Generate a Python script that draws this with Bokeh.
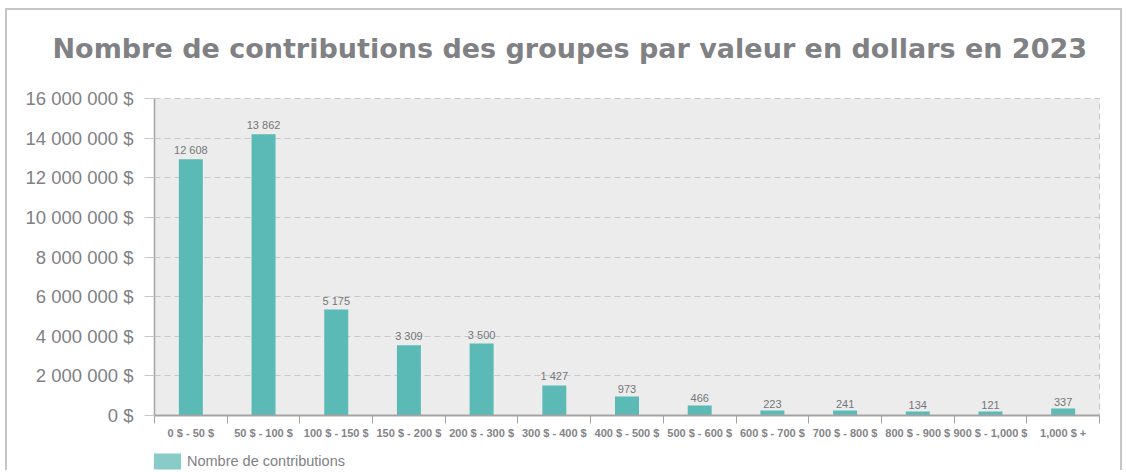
from bokeh.plotting import figure
from bokeh.models import Range1d, FixedTicker, Legend, LegendItem, Title
from bokeh.embed import file_html
from bokeh.resources import INLINE
from bokeh.core.properties import value

title_text = "Nombre de contributions des groupes par valeur en dollars en 2023"
categories = ["0 $ - 50 $", "50 $ - 100 $", "100 $ - 150 $", "150 $ - 200 $",
              "200 $ - 300 $", "300 $ - 400 $", "400 $ - 500 $", "500 $ - 600 $",
              "600 $ - 700 $", "700 $ - 800 $", "800 $ - 900 $", "900 $ - 1,000 $",
              "1,000 $ +"]
amounts = [12_930_000, 14_200_000, 5_350_000, 3_540_000, 3_630_000, 1_520_000,
           960_000, 510_000, 250_000, 250_000, 200_000, 200_000, 350_000]
counts = [12608, 13862, 5175, 3309, 3500, 1427, 973, 466, 223, 241, 134, 121, 337]
y_ticks = [0, 2_000_000, 4_000_000, 6_000_000, 8_000_000, 10_000_000,
           12_000_000, 14_000_000, 16_000_000]
series_name = "Nombre de contributions"

def fr(n):
    return f"{n:,}".replace(",", " ")

n = len(categories)
centers = [i + 0.5 for i in range(n)]
bounds = list(range(n + 1))
count_labels = [fr(c) for c in counts]

GRAY = "#7b7c7f"
BAR = "#5bbab6"

p = figure(width=1117, height=462, x_range=Range1d(0, n), y_range=Range1d(0, y_ticks[-1]),
           output_backend="svg", toolbar_location=None,
           min_border_left=147, min_border_right=25, min_border_top=88, min_border_bottom=57)
p.styles = {"margin-left": "5px", "margin-top": "8px",
            "border-top": "2px solid #c6c6c6", "border-left": "2px solid #c6c6c6",
            "border-right": "2px solid #c6c6c6"}

p.background_fill_color = "#ebeceb"
p.border_fill_color = "white"
p.outline_line_color = "#c8c8c8"
p.outline_line_dash = "6 4"

p.title.text = title_text
p.title.text_font = "DejaVu Sans"
p.title.text_font_style = "bold"
p.title.text_font_size = "27px"
p.title.text_color = "#808184"
p.title.align = "left"
p.title.offset = -102
p.title.standoff = 10

# spacer between title and plot area
p.add_layout(Title(text=" ", text_font_size="10px", standoff=17, text_color="white"), "above")

bars = p.vbar(x=centers, top=amounts, width=0.33, bottom=0, fill_color=BAR, line_color=None)

p.text(x=centers, y=amounts, text=count_labels, text_align="center", text_baseline="bottom",
       y_offset=-3, text_font_size="11px", text_color="#75767a",
       text_font=value("Liberation Sans"))

# x axis
p.xaxis.ticker = FixedTicker(ticks=centers, minor_ticks=bounds)
p.xaxis.major_label_overrides = {c: lab for c, lab in zip(centers, categories)}
p.xaxis.major_tick_line_color = None
p.xaxis.major_tick_out = 0
p.xaxis.major_tick_in = 0
p.xaxis.minor_tick_line_color = "#a3a3a3"
p.xaxis.minor_tick_in = 0
p.xaxis.minor_tick_out = 8
p.xaxis.axis_line_color = "#a3a3a3"
p.xaxis.axis_line_width = 2
p.xaxis.major_label_text_font = "Liberation Sans"
p.xaxis.major_label_text_font_style = "bold"
p.xaxis.major_label_text_font_size = "11px"
p.xaxis.major_label_text_color = "#838487"
p.xaxis.major_label_standoff = 3
p.xgrid.grid_line_color = None

# y axis
p.yaxis.ticker = FixedTicker(ticks=y_ticks)
p.yaxis.major_label_overrides = {t: fr(t) + " $" for t in y_ticks}
p.yaxis.major_tick_out = 10
p.yaxis.major_tick_in = 0
p.yaxis.major_tick_line_color = "#c8c8c8"
p.yaxis.minor_tick_line_color = None
p.yaxis.axis_line_color = "#a3a3a3"
p.yaxis.axis_line_width = 1.5
p.yaxis.major_label_text_font = "Liberation Sans"
p.yaxis.major_label_text_font_size = "18.5px"
p.yaxis.major_label_text_color = "#808184"
p.yaxis.major_label_standoff = 11
p.ygrid.grid_line_color = "#c8c8c8"
p.ygrid.grid_line_dash = "6 4"

# legend, drawn by a small overlay figure
lg = figure(width=260, height=22, x_range=Range1d(0, n), y_range=Range1d(0, y_ticks[-1]),
            output_backend="svg", toolbar_location=None, min_border=0,
            x_axis_location=None, y_axis_location=None)
lg.styles = {"position": "absolute", "left": "150px", "top": "451px"}
lg.grid.visible = False
lg.outline_line_color = None
lg.background_fill_alpha = 0
lg.border_fill_alpha = 0
swatch = lg.vbar(x=centers, top=amounts, width=0.33, fill_color="#88cbc7", line_color=None)
swatch.visible = False
legend = Legend(items=[LegendItem(label=series_name, renderers=[swatch])],
                location="top_left", orientation="horizontal",
                glyph_width=34, glyph_height=20, label_standoff=3,
                label_text_font="Liberation Sans", label_text_font_size="14.5px",
                label_text_color="#808184", padding=0, margin=0, spacing=0,
                inactive_fill_alpha=0,
                border_line_color=None, background_fill_alpha=0)
lg.add_layout(legend, "center")

open("out.html", "w").write(file_html([p, lg], INLINE))
